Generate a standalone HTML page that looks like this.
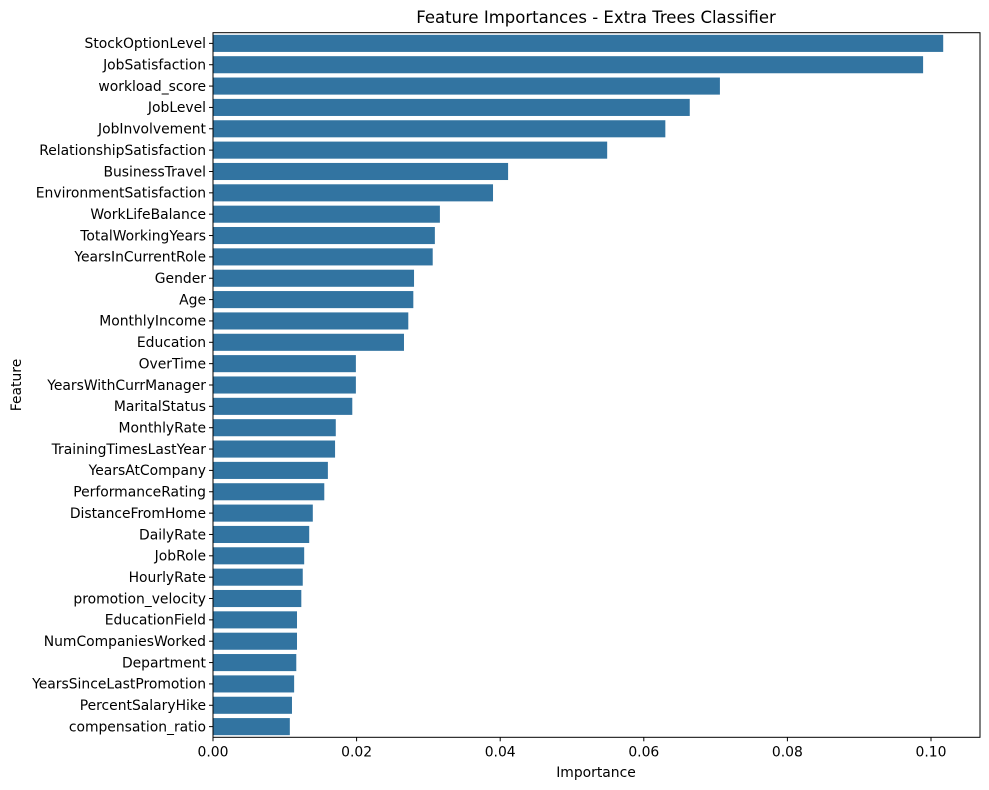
<!DOCTYPE html>
<html><head><meta charset="utf-8"><style>
html,body{margin:0;padding:0;background:#fff;}
svg{display:block;font-family:"DejaVu Sans","Liberation Sans",sans-serif;}
</style></head><body>
<svg id="chart" width="989" height="790" viewBox="0 0 989 790">
<text x="596" y="23" text-anchor="middle" font-size="16.5">Feature Importances - Extra Trees Classifier</text>
<g id="bars"></g>
<g id="yticks"></g>
<g id="xticks"></g>
<rect x="213" y="32.7" width="767" height="704.6" fill="none" stroke="#000" stroke-width="1"/>
<text x="596" y="777" text-anchor="middle" font-size="13.9">Importance</text>
<text x="21" y="385" text-anchor="middle" font-size="13.9" transform="rotate(-90 21 385)">Feature</text>
</svg>
<script>
const features = ["StockOptionLevel","JobSatisfaction","workload_score","JobLevel","JobInvolvement","RelationshipSatisfaction","BusinessTravel","EnvironmentSatisfaction","WorkLifeBalance","TotalWorkingYears","YearsInCurrentRole","Gender","Age","MonthlyIncome","Education","OverTime","YearsWithCurrManager","MaritalStatus","MonthlyRate","TrainingTimesLastYear","YearsAtCompany","PerformanceRating","DistanceFromHome","DailyRate","JobRole","HourlyRate","promotion_velocity","EducationField","NumCompaniesWorked","Department","YearsSinceLastPromotion","PercentSalaryHike","compensation_ratio"];
const importances = [0.1017,0.0989,0.0706,0.0664,0.0630,0.0549,0.0411,0.0390,0.0316,0.0309,0.0306,0.0280,0.0279,0.0272,0.0266,0.0199,0.0199,0.0194,0.0171,0.0170,0.0160,0.0155,0.0139,0.0134,0.0127,0.0125,0.0123,0.0117,0.0117,0.0116,0.0113,0.0110,0.0107];
const xTicks = [0,0.02,0.04,0.06,0.08,0.10];
const xTickLabels = ["0.00","0.02","0.04","0.06","0.08","0.10"];

const NS="http://www.w3.org/2000/svg";
const X0=213, PX_PER_UNIT=7180, TOP=32.7, BOTTOM=737.3;
const band=(BOTTOM-TOP)/features.length;
const xScale=v=>X0+v*PX_PER_UNIT;
const yScale=i=>TOP+band*(i+0.5);
function mk(tag,attrs){const e=document.createElementNS(NS,tag);for(const k in attrs)e.setAttribute(k,attrs[k]);return e;}
const gb=document.getElementById('bars'),gy=document.getElementById('yticks'),gx=document.getElementById('xticks');
features.forEach((f,i)=>{
  const h=band*0.8, y=yScale(i);
  const r=mk('rect',{x:X0,y:y-h/2,width:xScale(importances[i])-X0,height:h,fill:'#3274a1'});
  
  
  gb.appendChild(r);
  const t=mk('line',{x1:X0-4,x2:X0,y1:y,y2:y,stroke:'#000'});
  
  
  gy.appendChild(t);
  const l=mk('text',{x:X0-7,y:y+4.8,'text-anchor':'end','font-size':'13.9'});
  l.textContent=f;
  
  
  gy.appendChild(l);
});
xTicks.forEach((v,i)=>{
  const x=xScale(v);
  const t=mk('line',{x1:x,x2:x,y1:BOTTOM,y2:BOTTOM+4,stroke:'#000'});
  
  
  gx.appendChild(t);
  const l=mk('text',{x:x,y:BOTTOM+19,'text-anchor':'middle','font-size':'13.9'});
  l.textContent=xTickLabels[i];
  
  
  gx.appendChild(l);
});
</script>
</body></html>
